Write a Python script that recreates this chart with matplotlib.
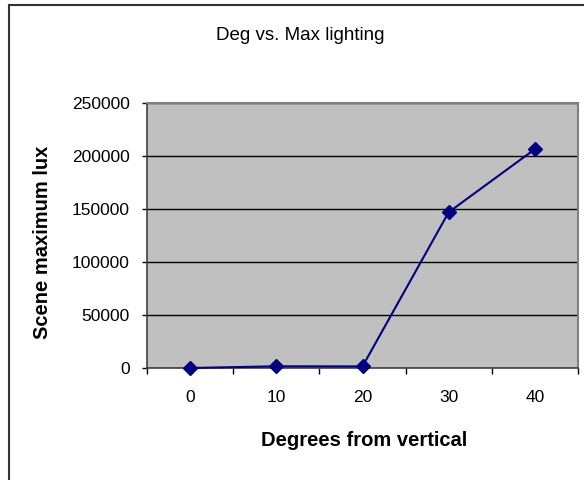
import matplotlib
matplotlib.use("Agg")
import matplotlib.pyplot as plt
from matplotlib.lines import Line2D

categories = ["0", "10", "20", "30", "40"]
values = [0, 1600, 1500, 147000, 206500]
yticks = [0, 50000, 100000, 150000, 200000, 250000]

plt.rcParams['font.family'] = ['Liberation Sans', 'DejaVu Sans']

W, H = 584, 480
fig = plt.figure(figsize=(W / 100, H / 100), dpi=100)
fig.patch.set_facecolor('white')

L, R, T, B = 147, 578, 103, 368
ax = fig.add_axes([L / W, 1 - B / H, (R - L) / W, (B - T) / H])
ax.set_facecolor('#C0C0C0')

x = list(range(len(categories)))
ax.plot(x, values, color='#000080', lw=1.5, marker='D', ms=7,
        mfc='#000080', mec='#000080', zorder=3, clip_on=False)

ax.set_xlim(-0.5, len(categories) - 0.5)
ax.set_ylim(0, 250000)
ax.set_yticks(yticks)
ax.set_yticklabels([str(v) for v in yticks])
ax.yaxis.grid(True, color='black', lw=1)
ax.set_axisbelow(True)

# category labels centred, ticks between categories
ax.set_xticks([i - 0.5 for i in range(len(categories) + 1)])
ax.set_xticklabels([''] * (len(categories) + 1))
ax.set_xticks(x, minor=True)
ax.set_xticklabels(categories, minor=True)
ax.tick_params(axis='x', which='minor', length=0, pad=16, labelsize=12.5)
ax.tick_params(axis='x', which='major', length=4, width=1, color='black', direction='out')
ax.tick_params(axis='y', length=3.5, width=1, color='black', direction='out', pad=9, labelsize=12.5)

for s in ['top', 'right']:
    ax.spines[s].set_color('#808080')
    ax.spines[s].set_linewidth(1.5)
ax.spines['left'].set_color('#404040')
ax.spines['bottom'].set_color('#404040')
ax.spines['left'].set_linewidth(1.2)
ax.spines['bottom'].set_linewidth(1.2)

ax.set_xlabel('Degrees from vertical', fontsize=14.5, fontweight='bold', va='center', ha='center')
ax.xaxis.set_label_coords((364 - L) / (R - L), (B - 441) / (B - T))
ax.set_ylabel('Scene maximum lux', fontsize=14.5, fontweight='bold', va='center', ha='center')
ax.yaxis.set_label_coords((42.5 - L) / (R - L), (B - 242) / (B - T))

fig.text(300.5 / W, 1 - 35 / H, 'Deg vs. Max lighting', fontsize=13.5, ha='center', va='center')

# outer chart border (left and top visible)
fig.add_artist(Line2D([9 / W, 9 / W], [0, 1 - 5 / H], color='#333333', lw=1.5, transform=fig.transFigure))
fig.add_artist(Line2D([9 / W, 1], [1 - 5 / H, 1 - 5 / H], color='#333333', lw=1.5, transform=fig.transFigure))

fig.savefig('out.png', dpi=100)
